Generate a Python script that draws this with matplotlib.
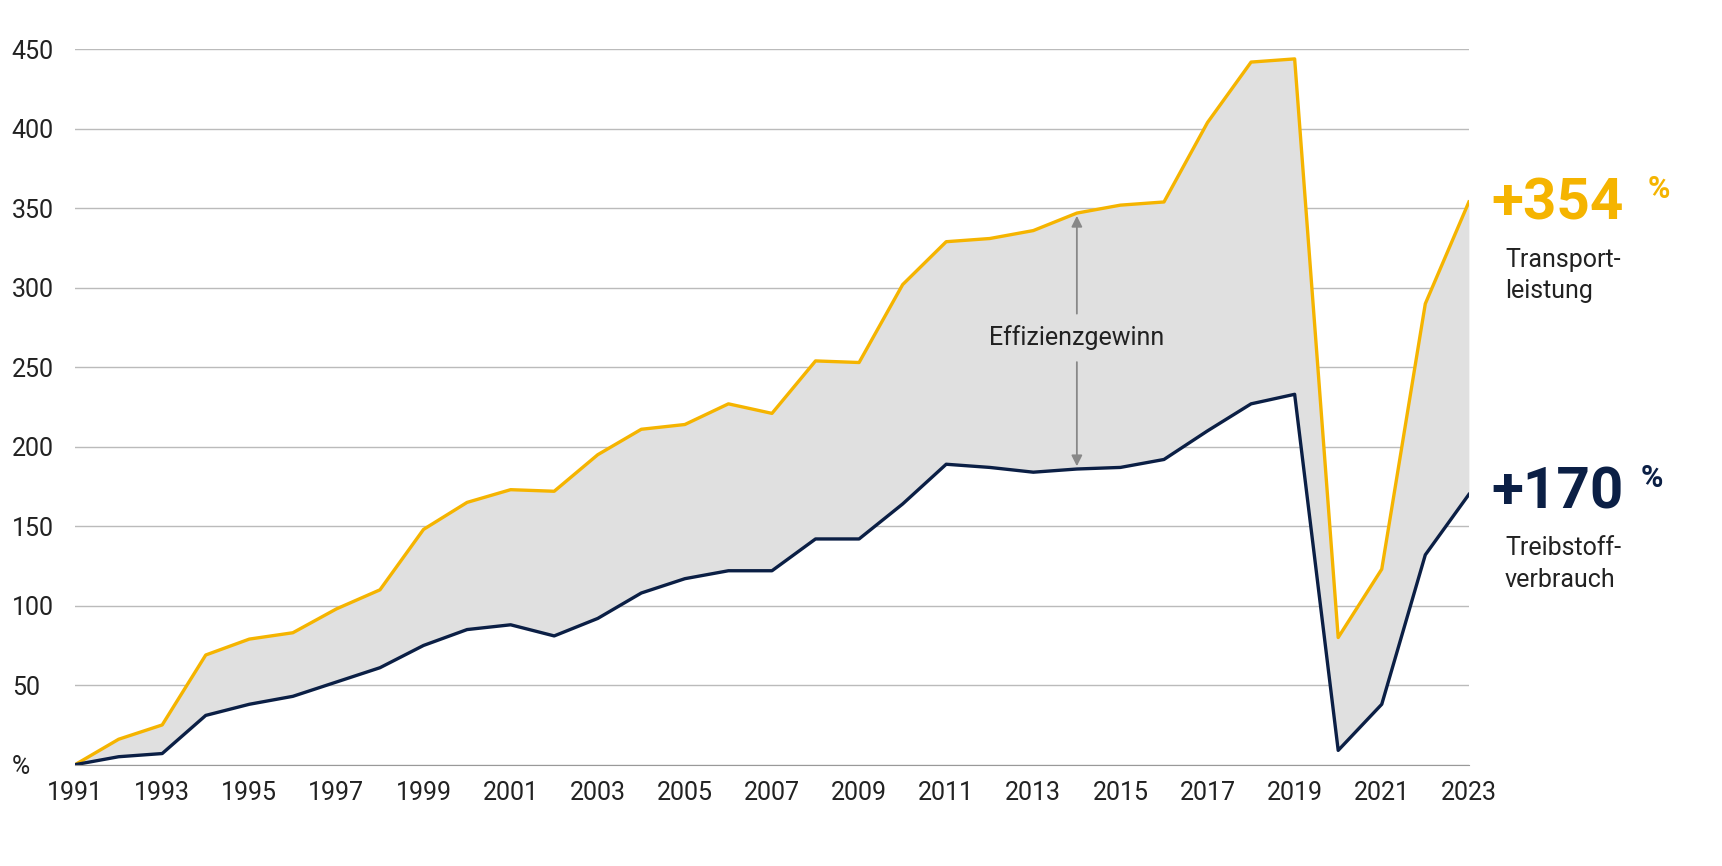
import matplotlib
matplotlib.use("Agg")
import matplotlib.pyplot as plt
import numpy as np

years = list(range(1991, 2024))
transport = [0,16,25,69,79,83,98,110,148,165,173,172,195,211,214,227,221,254,253,302,329,331,336,347,352,354,404,442,444,80,123,290,354]
fuel = [0,5,7,31,38,43,52,61,75,85,88,81,92,108,117,122,122,142,142,164,189,187,184,186,187,192,210,227,233,9,38,132,170]
yticks = [0,50,100,150,200,250,300,350,400,450]
ytick_labels = ["%","50","100","150","200","250","300","350","400","450"]
xticks = list(range(1991, 2024, 2))

YEL = "#F5B400"
NAVY = "#0B1F45"
plt.rcParams['font.family'] = ['Roboto', 'DejaVu Sans']
fig = plt.figure(figsize=(17.22, 8.66), dpi=100)
ax = fig.add_axes([0.0436, 0.117, 0.8094, 0.826])
ax.fill_between(years, fuel, transport, color="#E0E0E0", lw=0)
ax.plot(years, transport, color=YEL, lw=2.4)
ax.plot(years, fuel, color=NAVY, lw=2.4)
ax.set_xlim(1991, 2023)
ax.set_ylim(0, 450)
ax.set_yticks(yticks)
ax.set_yticklabels(ytick_labels)
ax.set_xticks(xticks)
ax.tick_params(axis='both', length=0, labelsize=18, colors="#222222")
ax.tick_params(axis='x', pad=12)
for lbl in ax.get_yticklabels():
    lbl.set_horizontalalignment('left')
    lbl.set_x(-0.042)
ax.grid(axis='y', color="#BBBBBB", lw=1)
ax.set_axisbelow(True)
for s in ['left', 'right', 'top']:
    ax.spines[s].set_visible(False)
ax.spines['bottom'].set_color("#999999")

ax.annotate("", xy=(2014, 347), xytext=(2014, 282),
            arrowprops=dict(arrowstyle="-|>", color="#888888", lw=1.3, mutation_scale=16))
ax.annotate("", xy=(2014, 186), xytext=(2014, 255),
            arrowprops=dict(arrowstyle="-|>", color="#888888", lw=1.3, mutation_scale=16))
ax.text(2014, 269, "Effizienzgewinn", ha='center', va='center', fontsize=18, color="#222222")

fig.text(0.866, 0.765, "+354", fontsize=42, fontweight='bold', color=YEL, va='center')
fig.text(0.957, 0.782, "%", fontsize=22, fontweight='bold', color=YEL, va='center')
fig.text(0.874, 0.682, "Transport-\nleistung", fontsize=18, color="#222222", va='center', linespacing=1.4)
fig.text(0.866, 0.431, "+170", fontsize=42, fontweight='bold', color=NAVY, va='center')
fig.text(0.953, 0.448, "%", fontsize=22, fontweight='bold', color=NAVY, va='center')
fig.text(0.874, 0.349, "Treibstoff-\nverbrauch", fontsize=18, color="#222222", va='center', linespacing=1.4)

fig.savefig("out.png", dpi=100)
